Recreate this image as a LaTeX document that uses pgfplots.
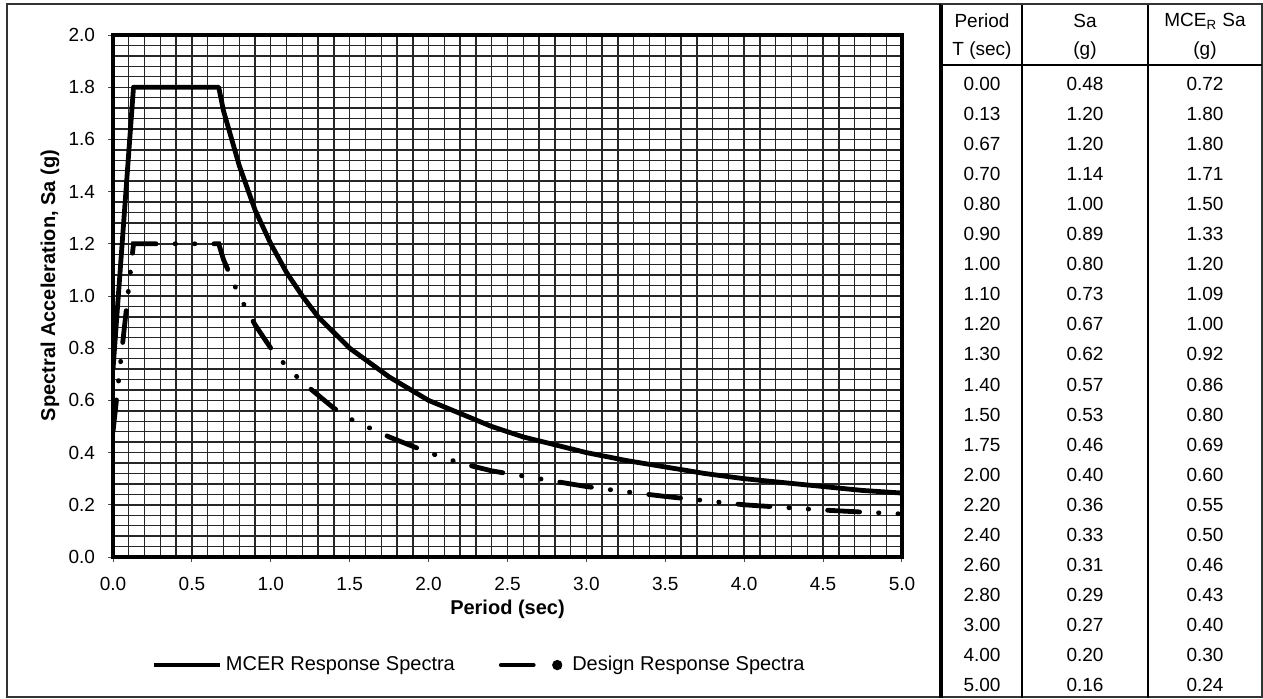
\documentclass[border=0pt]{standalone}
\usepackage{fontspec}
\setmainfont{Liberation Sans}
\usepackage{pgfplots}
\usepackage{pgfplotstable}
\pgfplotsset{compat=1.18}

\pgfplotstableread{
T Sa
0.00 0.72
0.13 1.80
0.67 1.80
0.70 1.71
0.80 1.50
0.90 1.33
1.00 1.20
1.10 1.09
1.20 1.00
1.30 0.92
1.40 0.86
1.50 0.80
1.75 0.69
2.00 0.60
2.20 0.55
2.40 0.50
2.60 0.46
2.80 0.43
3.00 0.40
3.25 0.37
3.50 0.345
3.75 0.32
4.00 0.30
4.25 0.285
4.50 0.27
4.75 0.255
5.00 0.245
}\mcer

\pgfplotstableread{
T Sa
0.00 0.48
0.13 1.20
0.67 1.20
0.70 1.14
0.80 1.00
0.90 0.89
1.00 0.80
1.10 0.73
1.20 0.67
1.30 0.62
1.40 0.57
1.50 0.53
1.75 0.46
2.00 0.40
2.20 0.36
2.40 0.33
2.60 0.31
2.80 0.29
3.00 0.27
3.25 0.25
3.50 0.232
3.75 0.216
4.00 0.20
4.25 0.19
4.50 0.18
4.75 0.172
5.00 0.165
}\design

\begin{document}
\begin{tikzpicture}[x=0.5pt,y=0.5pt]
\path[use as bounding box] (0,0) rectangle (1263,698);
% outer frame
\draw[black!80,line width=0.8pt] (7,698-4) -- (7,698-697) -- (1262,698-697) -- (1262,698-4) -- cycle;

\begin{axis}[
  at={(56.5pt,70.5pt)}, anchor=south west,
  scale only axis, width=394.5pt, height=261pt,
  xmin=0, xmax=5, ymin=0, ymax=2,
  xtick={0,0.5,...,5}, ytick={0,0.2,...,2.01},
  minor x tick num=4, minor y tick num=4,
  grid=both,
  major grid style={black!85,line width=0.7pt},
  minor grid style={black!85,line width=0.7pt},
  axis line style={line width=2.2pt},
  tick align=outside, major tick length=2.5pt, minor tick length=0pt,
  tick style={black!70,line width=0.5pt},
  xtick pos=bottom, ytick pos=left,
  /pgf/number format/assume math mode=true,
  xticklabel style={font=\fontsize{9.5}{11}\selectfont,/pgf/number format/.cd,fixed,fixed zerofill,precision=1},
  yticklabel style={font=\fontsize{9.5}{11}\selectfont,/pgf/number format/.cd,fixed,fixed zerofill,precision=1},
  xticklabel shift=4pt, yticklabel shift=3pt,
  xlabel={Period (sec)},
  ylabel={Spectral Acceleration, Sa (g)},
  xlabel style={font=\fontsize{10}{12}\selectfont\bfseries,at={(axis description cs:0.5,-0.1)},anchor=center},
  ylabel style={font=\fontsize{10}{12}\selectfont\bfseries,at={(axis description cs:-0.08,0.52)},anchor=center},
  legend columns=2,
  legend style={draw=none,fill=none,font=\fontsize{10}{12}\selectfont,
    at={(axis description cs:0.465,-0.207)},anchor=center,
    /tikz/every even column/.append style={column sep=20pt}},
]
\addplot[black,line width=2.4pt,line join=round,no marks,
  legend image code/.code={\draw[black,line width=2.4pt] (0pt,0pt) -- (33pt,0pt);}]
  table[x=T,y=Sa]{\mcer};
\addlegendentry{MCER Response Spectra}
\addplot[black,line width=2.4pt,line cap=round,no marks,
  dash pattern=on 16pt off 9.5pt on 0.2pt off 9.5pt on 0.2pt off 9.5pt,
  legend image code/.code={\draw[black,line width=2.4pt,line cap=round] (0pt,0pt) -- (18pt,0pt); \fill[black] (28pt,0pt) circle (1.3pt);}]
  table[x=T,y=Sa]{\design};
\addlegendentry{\hspace{3pt}Design Response Spectra}
\end{axis}

% table
\draw[black,line width=1.6pt] (941,698-4) -- (941,0);
\draw[black,line width=1.1pt] (1022,698-4) -- (1022,0);
\draw[black,line width=1.1pt] (1148,698-4) -- (1148,0);
\draw[black,line width=1pt] (941,698-65) -- (1262,698-65);
\draw[black!80,line width=0.8pt] (941,698-4) -- (1262,698-4);

\begin{scope}[every node/.style={font=\fontsize{9.5}{11}\selectfont,inner sep=0pt,anchor=center}]
\node at (982,698-21) {Period};
\node at (982,698-51) {T (sec)};
\node at (1085,698-21) {Sa};
\node at (1085,698-51) {(g)};
\node at (1205,698-21) {MCE\textsubscript{R} Sa};
\node at (1205,698-51) {(g)};
\foreach \t/\s/\m [count=\i from 0] in {
0.00/0.48/0.72, 0.13/1.20/1.80, 0.67/1.20/1.80, 0.70/1.14/1.71, 0.80/1.00/1.50,
0.90/0.89/1.33, 1.00/0.80/1.20, 1.10/0.73/1.09, 1.20/0.67/1.00, 1.30/0.62/0.92,
1.40/0.57/0.86, 1.50/0.53/0.80, 1.75/0.46/0.69, 2.00/0.40/0.60, 2.20/0.36/0.55,
2.40/0.33/0.50, 2.60/0.31/0.46, 2.80/0.29/0.43, 3.00/0.27/0.40, 4.00/0.20/0.30,
5.00/0.16/0.24}{
  \node at (982,{698-84-30.05*\i}) {\t};
  \node at (1085,{698-84-30.05*\i}) {\s};
  \node at (1205,{698-84-30.05*\i}) {\m};
}
\end{scope}
\end{tikzpicture}
\end{document}
